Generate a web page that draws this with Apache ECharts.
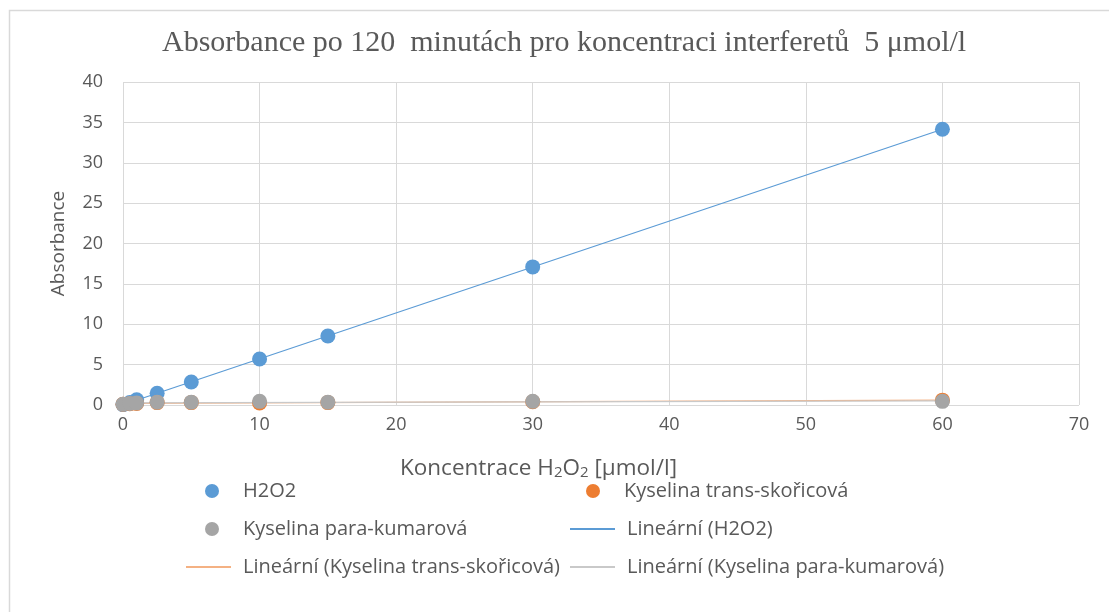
<!DOCTYPE html>
<html><head><meta charset="utf-8">
<script src="https://cdn.jsdelivr.net/npm/echarts@6/dist/echarts.min.js"></script>
<style>html,body{margin:0;padding:0;background:#fff}#c{width:1109px;height:612px}</style>
</head><body><div id="c"></div>
<script>
const concentrations = [0, 0.5, 1, 2.5, 5, 10, 15, 30, 60];
const h2o2 = [0.05, 0.3, 0.65, 1.45, 2.85, 5.7, 8.55, 17.1, 34.15];
const transSkoricova = [0.1, 0.15, 0.2, 0.3, 0.3, 0.25, 0.3, 0.4, 0.6];
const paraKumarova = [0.1, 0.2, 0.25, 0.35, 0.35, 0.45, 0.35, 0.45, 0.45];
const xTicks = [0, 10, 20, 30, 40, 50, 60, 70];
const yTicks = [0, 5, 10, 15, 20, 25, 30, 35, 40];
const seriesNames = ['H2O2', 'Kyselina trans-skořicová', 'Kyselina para-kumarová'];
const trendNames = ['Lineární (H2O2)', 'Lineární (Kyselina trans-skořicová)', 'Lineární (Kyselina para-kumarová)'];
const colors = ['#5B9BD5', '#ED7D31', '#A5A5A5'];
const trendColors = ['#5B9BD5', '#F4B183', '#C9C9C9'];

function pairs(ys){ return concentrations.map((x,i)=>[x, ys[i]]); }
function trend(ys){
  const n = concentrations.length;
  let sx=0, sy=0, sxx=0, sxy=0;
  for(let i=0;i<n;i++){ const x=concentrations[i], y=ys[i]; sx+=x; sy+=y; sxx+=x*x; sxy+=x*y; }
  const b = (n*sxy - sx*sy)/(n*sxx - sx*sx);
  const a = (sy - b*sx)/n;
  const x0 = Math.min(...concentrations), x1 = Math.max(...concentrations);
  return [[x0, a+b*x0],[x1, a+b*x1]];
}
const allY = [h2o2, transSkoricova, paraKumarova];
const font = 'Open Sans';
const txt = '#595959';

const series = [];
allY.forEach((ys,i)=>{
  series.push({name: seriesNames[i], type:'scatter', data: pairs(ys), symbolSize: 15,
    itemStyle:{color: colors[i], opacity:1}, z: 3+i});
});
allY.forEach((ys,i)=>{
  series.push({name: trendNames[i], type:'line', data: trend(ys), showSymbol:false, symbol:'none',
    itemStyle:{color: trendColors[i]},
    lineStyle:{color: trendColors[i], width: 1.2}, z: 2, silent:true});
});

function lg(name, left, top, isLine, w, pad){
  return {data:[{name: name, icon: isLine ? 'rect' : 'circle'}], left: left, top: top,
    itemWidth: w, itemHeight: isLine ? 2 : 14, selectedMode:false,
    textStyle:{color: txt, fontFamily: font, fontSize: 20, padding:[0,0,0,pad]}};
}

const chart = echarts.init(document.getElementById('c'));
chart.setOption({
  animation:false,
  title:{text:'Absorbance po 120  minutách pro koncentraci interferetů  5 μmol/l', left:157, top:23,
    textStyle:{fontFamily:'Liberation Serif', fontWeight:'normal', fontSize:30, color:txt}},
  grid:{left:123, right:30, top:82, bottom:207},
  xAxis:{type:'value', min:0, max:70, interval:10,
    axisLine:{show:false}, axisTick:{show:false},
    splitLine:{lineStyle:{color:'#D9D9D9', width:1}},
    axisLabel:{color:txt, fontFamily:font, fontSize:18, margin:11,
      formatter: v => xTicks.includes(v) ? String(v) : ''}},
  yAxis:{type:'value', min:0, max:40, interval:5,
    name:'Absorbance', nameLocation:'middle', nameGap:55,
    nameTextStyle:{color:txt, fontFamily:font, fontSize:19},
    axisLine:{show:false}, axisTick:{show:false},
    splitLine:{lineStyle:{color:'#D9D9D9', width:1}},
    axisLabel:{color:txt, fontFamily:font, fontSize:18, margin:20,
      formatter: v => yTicks.includes(v) ? String(v) : ''}},
  legend:[
    lg(seriesNames[0], 200, 476, false, 40, 6),
    lg(seriesNames[1], 581, 476, false, 40, 6),
    lg(seriesNames[2], 200, 514, false, 40, 6),
    lg(trendNames[0], 565, 514, true, 45, 7),
    lg(trendNames[1], 181, 552, true, 45, 7),
    lg(trendNames[2], 565, 552, true, 45, 7)
  ],
  graphic:[
    {type:'rect', left:7, top:8, shape:{width:1200, height:700}, style:{fill:'none', stroke:'#D9D9D9', lineWidth:1.5}, silent:true},
    {type:'text', left:400, top:457, style:{
      text:'{a|Koncentrace H}{s|2}{a|O}{s|2}{a| [μmol/l]}',
      rich:{a:{fontFamily:font, fontSize:22.5, fill:txt}, s:{fontFamily:font, fontSize:15, fill:txt, verticalAlign:'bottom', padding:[9,0,0,0]}}}}
  ],
  series: series
});
</script></body></html>
